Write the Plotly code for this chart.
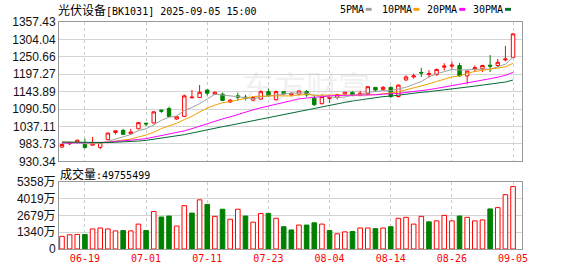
import numpy as np
import pandas as pd
import plotly.graph_objects as go

# ---------------- data ----------------
dates = ["06-16", "06-17", "06-18", "06-19", "06-20", "06-23", "06-24", "06-25", "06-26", "06-27", "06-30",
         "07-01", "07-02", "07-03", "07-04", "07-07", "07-08", "07-09", "07-10", "07-11", "07-14", "07-15",
         "07-16", "07-17", "07-18", "07-21", "07-22", "07-23", "07-24", "07-25", "07-28", "07-29", "07-30",
         "07-31", "08-01", "08-04", "08-05", "08-06", "08-07", "08-08", "08-11", "08-12", "08-13", "08-14",
         "08-15", "08-18", "08-19", "08-20", "08-21", "08-22", "08-25", "08-26", "08-27", "08-28", "08-29",
         "09-01", "09-02", "09-03", "09-04", "09-05"]

open_ = [974, 984, 988, 982, 980, 973, 997, 1019, 1025, 1015, 1030, 1047, 1048, 1087, 1092, 1060,
         1068, 1125, 1126, 1149, 1136, 1136, 1112, 1131, 1127, 1118, 1121, 1144, 1119, 1144, 1134, 1136,
         1144, 1124, 1107, 1123, 1127, 1137, 1142, 1132, 1137, 1157, 1151, 1157, 1129, 1180, 1189, 1203,
         1196, 1196, 1219, 1222, 1224, 1192, 1214, 1214, 1225, 1224, 1241, 1249]
high = [984, 988, 997, 1000, 1005, 989, 1018, 1024, 1030, 1030, 1050, 1049, 1084, 1090, 1098, 1068,
        1135, 1149, 1164, 1150, 1144, 1141, 1120, 1141, 1134, 1128, 1148, 1153, 1147, 1146, 1141, 1148,
        1149, 1134, 1136, 1128, 1137, 1143, 1145, 1147, 1161, 1158, 1161, 1160, 1166, 1194, 1199, 1217,
        1210, 1214, 1231, 1236, 1232, 1209, 1224, 1226, 1256, 1244, 1284, 1324]
low = [972, 980, 986, 969, 978, 968, 995, 1013, 1012, 1013, 1029, 1038, 1046, 1079, 1066, 1058,
       1066, 1124, 1125, 1132, 1134, 1115, 1110, 1116, 1117, 1114, 1119, 1128, 1117, 1133, 1130, 1134,
       1128, 1100, 1105, 1109, 1120, 1132, 1130, 1130, 1134, 1143, 1147, 1124, 1126, 1176, 1184, 1189,
       1187, 1193, 1209, 1211, 1191, 1167, 1204, 1204, 1204, 1219, 1237, 1248]
close = [982, 987, 995, 973, 985, 988, 1017, 1024, 1013, 1020, 1049, 1045, 1082, 1084, 1068, 1067,
         1131, 1127, 1142, 1139, 1142, 1117, 1118, 1127, 1123, 1126, 1144, 1132, 1144, 1137, 1139, 1146,
         1134, 1104, 1129, 1127, 1135, 1142, 1132, 1139, 1159, 1149, 1157, 1129, 1164, 1189, 1192, 1201,
         1199, 1212, 1222, 1225, 1192, 1207, 1217, 1224, 1222, 1234, 1244, 1321]

# closes of the days before the window (estimated from where the MA lines start)
prior_close = [998, 1002, 1006, 1001, 995, 990, 993, 997, 992, 985, 980, 976, 979, 984, 988, 983, 978,
               982, 987, 991, 994, 990, 986, 989, 993, 996, 992, 988, 985]

volume_wan = [1005, 1134, 1160, 1160, 1598, 1675, 1598, 1443, 1469, 1443, 1984, 1469, 2989, 2551, 2629,
              1830, 3453, 2860, 3917, 3556, 2603, 3170, 2371, 3170, 2629, 2139, 2835, 2835, 2448, 1778,
              1520, 1907, 1907, 2087, 1984, 1469, 1211, 1366, 1392, 1675, 1675, 1624, 1675, 1778, 2448,
              2525, 1984, 2603, 2165, 2242, 2680, 2242, 2629, 2525, 2242, 2319, 3195, 3299, 4329, 4975.5499]
volume_up = [1, 1, 1, 0, 1, 1, 1, 1, 0, 1, 1, 0, 1, 0, 0, 1, 1, 0, 1, 0, 1, 0, 1, 1, 0, 1, 1, 0, 1, 0,
             0, 1, 0, 0, 1, 0, 1, 1, 0, 1, 1, 0, 1, 0, 1, 1, 1, 1, 0, 1, 1, 1, 0, 1, 1, 1, 0, 1, 1, 1]

price_min, price_max = 930.34, 1357.43
price_tick_labels = ["930.34", "983.73", "1037.11", "1090.50", "1143.89", "1197.27", "1250.66",
                     "1304.04", "1357.43"]
vol_max = 5358
vol_tick_labels = ["0", "1340万", "2679万", "4019万", "5358万"]
date_tick_labels = ["06-19", "07-01", "07-11", "07-23", "08-04", "08-14", "08-26", "09-05"]

ma_periods = [5, 10, 20, 30]
ma_names = ["5PMA", "10PMA", "20PMA", "30PMA"]
ma_colors = ["#a0a0a0", "#f0a000", "#ff00ff", "#006b35"]

title_text = "光伏设备[BK1031] 2025-09-05 15:00"
vol_label_text = "成交量:49755499"
watermark_text = "东方财富"

# ---------------- geometry (pixels) ----------------
W, H = 578, 276
L, R, T, B = 57, 56, 22, 21
PW, PH = W - L - R, H - T - B
main_top, main_bot = 22, 165
vol_top, vol_bot = 186, 255


def px_x(p):
    return (p - L) / PW


def px_y(p):
    return (H - B - p) / PH


RED = "#ff0000"
GREEN = "#008000"
MONO = "DejaVu Sans Mono, Noto Sans CJK SC"
CJK = "Noto Sans CJK SC"

n = len(close)
x = list(range(n))
tick_idx = [dates.index(d) for d in date_tick_labels]

all_close = pd.Series(prior_close + close, dtype=float)
ma_values = [all_close.rolling(p).mean().iloc[len(prior_close):].tolist() for p in ma_periods]

fig = go.Figure()

fig.add_trace(go.Candlestick(
    x=x, open=open_, high=high, low=low, close=close,
    increasing=dict(line=dict(color=RED, width=1), fillcolor="#ffffff"),
    decreasing=dict(line=dict(color=GREEN, width=1), fillcolor=GREEN),
    whiskerwidth=0, xaxis="x", yaxis="y", showlegend=False, hoverinfo="skip"))

for vals, name, col in zip(ma_values, ma_names, ma_colors):
    fig.add_trace(go.Scatter(x=x, y=vals, mode="lines", name=name,
                             line=dict(color=col, width=1), xaxis="x", yaxis="y",
                             showlegend=False, hoverinfo="skip"))

fig.add_trace(go.Bar(
    x=x, y=volume_wan, width=0.6,
    marker=dict(color=["#ffffff" if u else GREEN for u in volume_up],
                line=dict(color=[RED if u else GREEN for u in volume_up], width=1)),
    xaxis="x2", yaxis="y2", showlegend=False, hoverinfo="skip"))

xr = [-0.39, n - 1 + 1.17]
common_x = dict(range=xr, tickmode="array", tickvals=tick_idx, showgrid=True,
                gridcolor="#cccccc", griddash="3px,3px", gridwidth=1, zeroline=False,
                showline=True, linecolor="#999999", linewidth=1, mirror=True, ticks="",
                rangeslider=dict(visible=False), fixedrange=True)

price_tickvals = list(np.linspace(price_min, price_max, len(price_tick_labels)))
vol_tickvals = list(np.linspace(0, vol_max, len(vol_tick_labels)))

fig.update_layout(
    width=W, height=H, margin=dict(l=L, r=R, t=T, b=B, pad=0),
    paper_bgcolor="#ffffff", plot_bgcolor="#ffffff", showlegend=False,
    boxgap=0.36,
    xaxis=dict(**common_x, domain=[0, 1], anchor="y", showticklabels=False),
    xaxis2=dict(**common_x, domain=[0, 1], anchor="y2", matches="x", showticklabels=True,
                ticktext=date_tick_labels, tickfont=dict(family=MONO, size=10, color=RED)),
    yaxis=dict(domain=[px_y(main_bot), px_y(main_top)], range=[price_min, price_max],
               tickmode="array", tickvals=price_tickvals, ticktext=price_tick_labels,
               showgrid=True, gridcolor="#d4d4d4", gridwidth=1, zeroline=False,
               showline=True, linecolor="#999999", linewidth=1, mirror=True, ticks="",
               tickfont=dict(family="Liberation Sans, Noto Sans CJK SC", size=12, color="#111111"),
               fixedrange=True),
    yaxis2=dict(domain=[px_y(vol_bot), px_y(vol_top)], range=[0, vol_max],
                tickmode="array", tickvals=vol_tickvals, ticktext=vol_tick_labels,
                showgrid=True, gridcolor="#d4d4d4", gridwidth=1, zeroline=False,
                showline=True, linecolor="#999999", linewidth=1, mirror=True, ticks="",
                tickfont=dict(family="Liberation Sans, Noto Sans CJK SC", size=12, color="#111111"),
                fixedrange=True),
)

annotations = [
    dict(text=f"<span style='font-family:{CJK};font-size:12px'>{title_text[:4]}</span>{title_text[4:]}",
         x=px_x(55), y=px_y(9), xref="paper", yref="paper", xanchor="left", yanchor="middle",
         showarrow=False, borderpad=0, font=dict(family=MONO, size=10, color="#000000")),
    dict(text=f"<span style='font-family:{CJK};font-size:12px'>{vol_label_text[:3]}</span>{vol_label_text[3:]}",
         x=px_x(57), y=px_y(178), xref="paper", yref="paper", xanchor="left", yanchor="middle",
         showarrow=False, borderpad=0, font=dict(family=MONO, size=10, color="#000000")),
    dict(text=watermark_text, x=px_x(305), y=px_y(87), xref="paper", yref="paper",
         xanchor="center", yanchor="middle", showarrow=False,
         font=dict(family=CJK, size=32, color="rgba(190,190,190,0.22)")),
]

legend_text_x = [338, 380, 426, 472]
legend_box_x = [365, 413, 459, 505]
shapes = []
for name, col, tx, bx in zip(ma_names, ma_colors, legend_text_x, legend_box_x):
    annotations.append(dict(text=name, x=px_x(tx), y=px_y(9), xref="paper", yref="paper",
                            xanchor="left", yanchor="middle", showarrow=False, borderpad=0,
                            font=dict(family=MONO, size=10, color="#000000")))
    shapes.append(dict(type="rect", xref="paper", yref="paper",
                       x0=px_x(bx), x1=px_x(bx + 6), y0=px_y(10.5), y1=px_y(7.5),
                       fillcolor=col, line=dict(width=0)))

fig.update_layout(annotations=annotations, shapes=shapes)

fig.write_html("out.html")
